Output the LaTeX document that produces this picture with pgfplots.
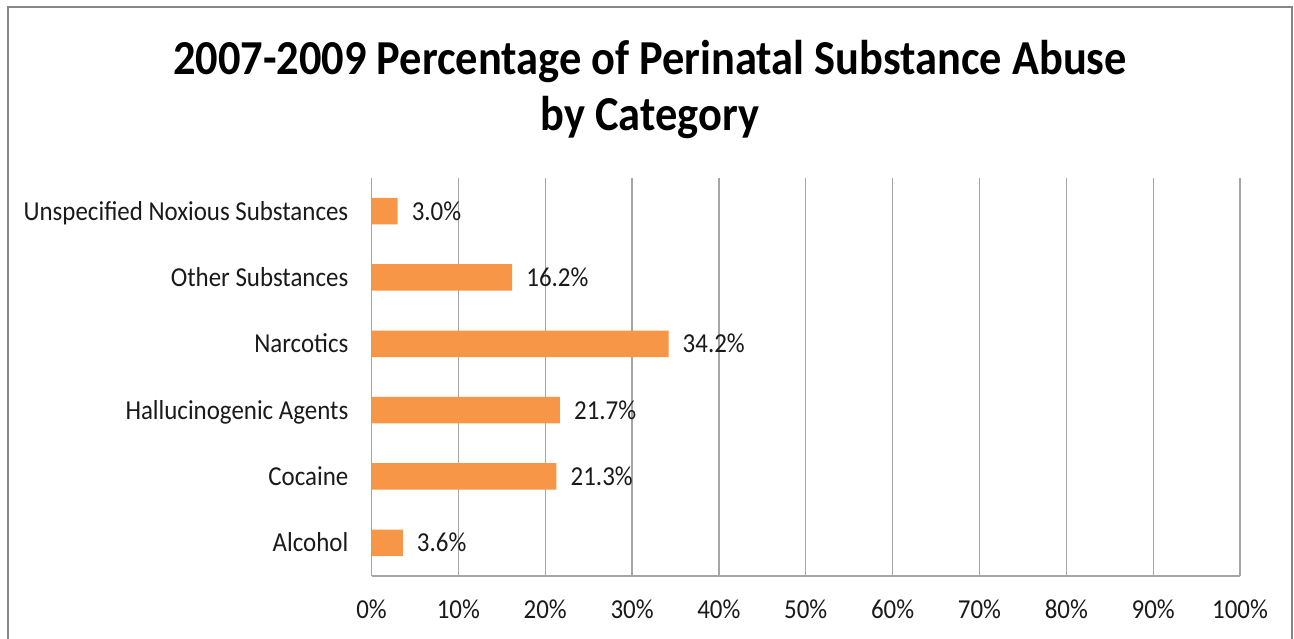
\documentclass[border=0pt]{standalone}
\usepackage{fontspec}
\setmainfont[FakeStretch=0.91]{Carlito}
\usepackage{pgfplots}
\pgfplotsset{compat=1.18}
\definecolor{barorange}{HTML}{F79646}
\definecolor{gridgray}{HTML}{A6A6A6}
\definecolor{framegray}{HTML}{868686}
\definecolor{textdark}{HTML}{1A1A1A}

\begin{document}
\begin{tikzpicture}
\useasboundingbox (0,0) rectangle (1294bp,639bp);
% chart frame (open at the bottom edge of the page)
\draw[framegray, line width=2bp] (8bp,-10bp) -- (8bp,632bp) -- (1292bp,632bp) -- (1292bp,-10bp);
% title
\node[font=\bfseries\fontsize{49}{55}\selectfont, anchor=base, inner sep=0pt] at (650bp,564bp)
  {2007-2009 Percentage of Perinatal Substance Abuse};
\node[font=\bfseries\fontsize{49}{55}\selectfont, anchor=base, inner sep=0pt] at (650bp,508bp)
  {by Category};

\begin{axis}[
  at={(371.5bp,63bp)}, anchor=south west,
  width=868.5bp, height=398bp, scale only axis,
  xbar, bar width=26.5bp,
  xmin=0, xmax=100, ymin=-0.5, ymax=5.5,
  clip=false,
  axis x line*=bottom, axis y line*=left,
  axis line style={gridgray, line width=1.3bp, -},
  xmajorgrids, grid style={gridgray, line width=1.3bp},
  major tick length=0pt,
  xtick={0,10,...,100},
  xticklabel={\pgfmathprintnumber{\tick}\%},
  ytick={0,...,5},
  yticklabels={Alcohol,Cocaine,Hallucinogenic Agents,Narcotics,Other Substances,Unspecified Noxious Substances},
  /pgf/number format/assume math mode=true,
  tick label style={font=\fontsize{27.5}{30}\selectfont, text=textdark, inner sep=0pt},
  xticklabel style={anchor=base, yshift=-42bp},
  yticklabel style={anchor=base east, xshift=-23bp, yshift=-9bp},
  nodes near coords={\pgfmathprintnumber[fixed,fixed zerofill,precision=1]{\pgfplotspointmeta}\%},
  every node near coord/.append style={font=\fontsize{27.5}{30}\selectfont, text=textdark,
    anchor=base west, inner sep=0pt, xshift=14bp, yshift=-9bp},
]
\addplot[fill=barorange, draw=none] coordinates {
  (3.6,0) (21.3,1) (21.7,2) (34.2,3) (16.2,4) (3.0,5)
};
\end{axis}
\end{tikzpicture}
\end{document}
